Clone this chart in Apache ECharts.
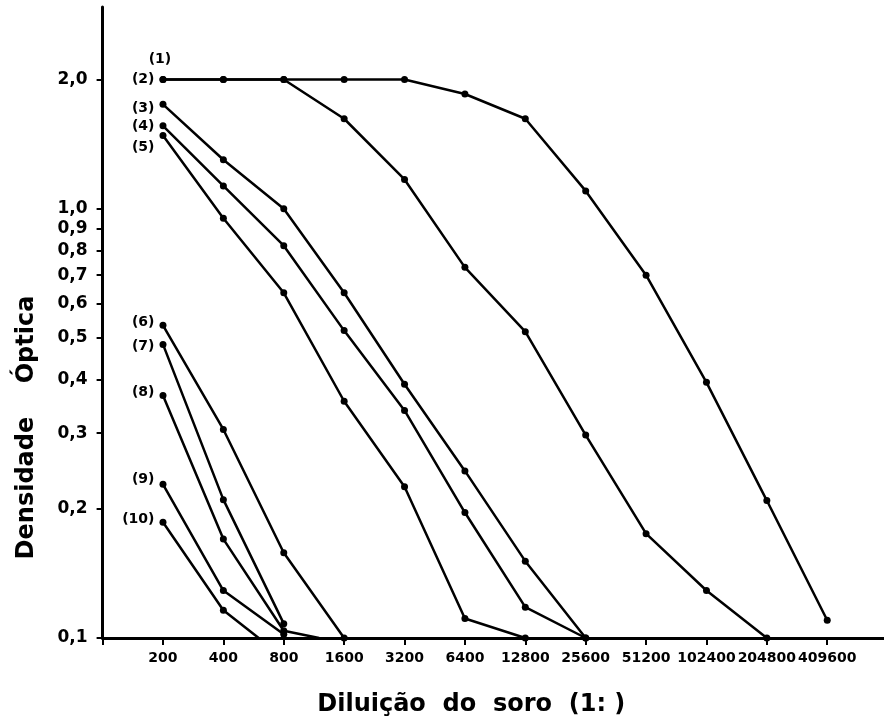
<!DOCTYPE html>
<html>
<head>
<meta charset="utf-8">
<script src="https://cdn.jsdelivr.net/npm/echarts@6/dist/echarts.min.js"></script>
<style>
    html, body { margin: 0; padding: 0; background: #fff; }
    #main { width: 884px; height: 722px; }
</style>
</head>
<body>
<div id="main"></div>
<script>
// diluicoes marcadas no eixo x e densidades no eixo y
var diluicoes = [200, 400, 800, 1600, 3200, 6400, 12800, 25600, 51200, 102400, 204800, 409600];
var densidades = [0.1, 0.2, 0.3, 0.4, 0.5, 0.6, 0.7, 0.8, 0.9, 1.0, 2.0];

// curvas (1) a (10): [diluicao, densidade optica]
var curva1 = [[200, 2.0], [400, 2.0], [800, 2.0], [1600, 2.0], [3200, 2.0], [6400, 1.85], [12800, 1.62], [25600, 1.10], [51200, 0.70], [102400, 0.394], [204800, 0.209], [409600, 0.11]];
var curva2 = [[200, 2.0], [400, 2.0], [800, 2.0], [1600, 1.62], [3200, 1.17], [6400, 0.73], [12800, 0.517], [25600, 0.297], [51200, 0.175], [102400, 0.129], [204800, 0.1]];
var curva3 = [[200, 1.75], [400, 1.30], [800, 1.0], [1600, 0.637], [3200, 0.39], [6400, 0.245], [12800, 0.151], [25600, 0.1]];
var curva4 = [[200, 1.56], [400, 1.13], [800, 0.82], [1600, 0.52], [3200, 0.339], [6400, 0.196], [12800, 0.118], [25600, 0.1]];
var curva5 = [[200, 1.48], [400, 0.95], [800, 0.637], [1600, 0.356], [3200, 0.225], [6400, 0.111], [12800, 0.10]];
var curva6 = [[200, 0.535], [400, 0.306], [800, 0.158], [1600, 0.1]];
var curva7 = [[200, 0.483], [400, 0.21], [800, 0.108]];
var curva8 = [[200, 0.367], [400, 0.17], [800, 0.104], [1200, 0.1]];
var curva9 = [[200, 0.228], [400, 0.129], [800, 0.102]];
var curva10 = [[200, 0.186], [400, 0.116], [600, 0.1]];

var curvas = [curva1, curva2, curva3, curva4, curva5, curva6, curva7, curva8, curva9, curva10];
var nomes = ['(1)', '(2)', '(3)', '(4)', '(5)', '(6)', '(7)', '(8)', '(9)', '(10)'];

// posicao dos rotulos (1)..(10) junto ao primeiro ponto
var rotuloPos = [
    {position: 'top', distance: 10, offset: [-3, 0]},
    {position: 'left', distance: 5, offset: [0, 0]},
    {position: 'left', distance: 5, offset: [0, 4]},
    {position: 'left', distance: 5, offset: [0, 1]},
    {position: 'left', distance: 5, offset: [0, 12]},
    {position: 'left', distance: 5, offset: [0, -3]},
    {position: 'left', distance: 5, offset: [0, 2]},
    {position: 'left', distance: 5, offset: [0, -3]},
    {position: 'left', distance: 5, offset: [0, -5]},
    {position: 'left', distance: 5, offset: [0, -3]}
];
// pontos finais desenhados sem marcador
var semMarca = {'8-3': true, '10-2': true};

var fonte = 'DejaVu Sans';

var chart = echarts.init(document.getElementById('main'));

var series = curvas.map(function (c, i) {
    return {
        name: nomes[i],
        type: 'line',
        clip: false,
        symbol: 'circle',
        symbolSize: 7,
        itemStyle: {color: '#000'},
        lineStyle: {color: '#000', width: 2.5},
        emphasis: {disabled: true},
        data: c.map(function (p, j) {
            var item = {value: p};
            if (semMarca[(i + 1) + '-' + j]) {
                item.symbol = 'none';
            }
            if (j === 0) {
                item.label = {
                    show: true,
                    formatter: nomes[i],
                    position: rotuloPos[i].position,
                    distance: rotuloPos[i].distance,
                    offset: rotuloPos[i].offset,
                    color: '#000',
                    fontFamily: fonte,
                    fontWeight: 'bold',
                    fontSize: 14
                };
            }
            return item;
        })
    };
});

var option = {
    animation: false,
    backgroundColor: '#fff',
    grid: {left: 102.6, right: 0, top: 7, bottom: 83, containLabel: false},
    xAxis: {
        type: 'log',
        logBase: 2,
        min: 100,
        max: 785800,
        name: 'Diluição  do  soro  (1: )',
        nameLocation: 'middle',
        nameGap: 55,
        nameTextStyle: {
            color: '#000', fontFamily: fonte, fontWeight: 'bold', fontSize: 24,
            padding: [0, 44, 0, 0]
        },
        axisLine: {show: true, lineStyle: {color: '#000', width: 3}},
        axisTick: {
            show: true, length: 7, lineStyle: {color: '#000', width: 2},
            customValues: [100].concat(diluicoes)
        },
        axisLabel: {
            customValues: diluicoes,
            margin: 13,
            color: '#000', fontFamily: fonte, fontWeight: 'bold', fontSize: 14,
            formatter: function (v) { return String(Math.round(v)); }
        },
        splitLine: {show: false},
        minorTick: {show: false}
    },
    yAxis: {
        type: 'log',
        logBase: 10,
        min: 0.1,
        max: 2.95,
        name: 'Densidade    Óptica',
        nameLocation: 'middle',
        nameGap: 64,
        nameTextStyle: {
            color: '#000', fontFamily: fonte, fontWeight: 'bold', fontSize: 24,
            padding: [0, 210, 0, 0]
        },
        axisLine: {show: true, lineStyle: {color: '#000', width: 3}},
        axisTick: {
            show: true, length: 6, lineStyle: {color: '#000', width: 2},
            customValues: densidades
        },
        axisLabel: {
            customValues: densidades,
            margin: 15,
            color: '#000', fontFamily: fonte, fontWeight: 'bold', fontSize: 17,
            formatter: function (v) { return v.toFixed(1).replace('.', ','); }
        },
        splitLine: {show: false},
        minorTick: {show: false}
    },
    series: series
};

chart.setOption(option);
</script>
</body>
</html>
